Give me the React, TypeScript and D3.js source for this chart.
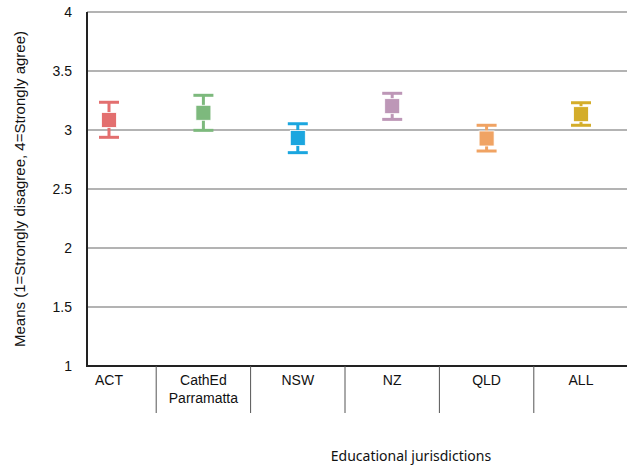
import React, {useEffect, useRef} from 'react';
import * as d3 from 'd3';

const categories = ['ACT', 'CathEd\nParramatta', 'NSW', 'NZ', 'QLD', 'ALL'];
const means = [3.085, 3.146, 2.932, 3.202, 2.928, 3.134];
const upper = [3.235, 3.294, 3.053, 3.311, 3.04, 3.231];
const lower = [2.938, 2.997, 2.808, 3.09, 2.822, 3.04];
const colors = ['#e36f6f', '#7db97d', '#1ba6df', '#bd97b7', '#f0a363', '#d4ad2a'];
const yTicks = [1, 1.5, 2, 2.5, 3, 3.5, 4];

const W = 627;
const H = 466;

export default function App() {
  const svgRef = useRef<SVGSVGElement>(null);

  useEffect(() => {
    if (!svgRef.current) return;
    const svg = d3.select(svgRef.current);
    svg.selectAll('*').remove();

    const left = 87;
    const right = 627;
    const top = 12;
    const bottom = 366;

    const y = d3.scaleLinear().domain([1, 4]).range([bottom, top]);
    const x = d3
      .scalePoint<string>()
      .domain(categories)
      .range([109, 581]);
    const step = x.step();

    // Grid lines
    svg
      .append('g')
      .selectAll('line')
      .data(yTicks.filter((t) => t > 1))
      .enter()
      .append('line')
      .attr('x1', left)
      .attr('x2', right)
      .attr('y1', (d) => y(d))
      .attr('y2', (d) => y(d))
      .attr('stroke', '#9a9a9a')
      .attr('stroke-width', 1.6);

    // Y tick labels
    svg
      .append('g')
      .selectAll('text')
      .data(yTicks)
      .enter()
      .append('text')
      .attr('x', 72)
      .attr('y', (d) => y(d))
      .attr('dy', '0.35em')
      .attr('text-anchor', 'end')
      .attr('font-family', 'Liberation Sans, Arial, sans-serif')
      .attr('font-size', 14)
      .attr('fill', '#111')
      .text((d) => String(d));

    // Axes lines
    svg
      .append('line')
      .attr('x1', left)
      .attr('x2', left)
      .attr('y1', top)
      .attr('y2', bottom)
      .attr('stroke', '#222')
      .attr('stroke-width', 2);
    svg
      .append('line')
      .attr('x1', left - 1)
      .attr('x2', right)
      .attr('y1', bottom)
      .attr('y2', bottom)
      .attr('stroke', '#222')
      .attr('stroke-width', 2);

    // Category separators
    svg
      .append('g')
      .selectAll('line')
      .data(categories.slice(1))
      .enter()
      .append('line')
      .attr('x1', (d) => (x(d) || 0) - step / 2)
      .attr('x2', (d) => (x(d) || 0) - step / 2)
      .attr('y1', bottom)
      .attr('y2', 413)
      .attr('stroke', '#555')
      .attr('stroke-width', 1);

    // Category labels
    const labels = svg
      .append('g')
      .selectAll('text')
      .data(categories)
      .enter()
      .append('text')
      .attr('x', (d) => x(d) || 0)
      .attr('y', 385)
      .attr('text-anchor', 'middle')
      .attr('font-family', 'Liberation Sans, Arial, sans-serif')
      .attr('font-size', 14)
      .attr('fill', '#111');
    labels
      .selectAll('tspan')
      .data((d) => d.split('\n').map((s) => ({s, x: x(d) || 0})))
      .enter()
      .append('tspan')
      .attr('x', (d) => d.x)
      .attr('dy', (_d, i) => (i === 0 ? 0 : 18))
      .text((d) => d.s);

    // Error bars
    const g = svg.append('g');
    categories.forEach((c, i) => {
      const cx = x(c) || 0;
      const col = colors[i];
      const item = g.append('g');
      item
        .append('line')
        .attr('x1', cx)
        .attr('x2', cx)
        .attr('y1', y(upper[i]))
        .attr('y2', y(lower[i]))
        .attr('stroke', col)
        .attr('stroke-width', 3);
      [upper[i], lower[i]].forEach((v) => {
        item
          .append('line')
          .attr('x1', cx - 10)
          .attr('x2', cx + 10)
          .attr('y1', y(v))
          .attr('y2', y(v))
          .attr('stroke', col)
          .attr('stroke-width', 3);
      });
      item
        .append('rect')
        .attr('x', cx - 7.5)
        .attr('y', y(means[i]) - 7.5)
        .attr('width', 15)
        .attr('height', 15)
        .attr('fill', col)
        .attr('stroke', '#fff')
        .attr('stroke-width', 0.8);
    });

    // Axis titles
    svg
      .append('text')
      .attr('transform', `translate(25,${(top + bottom) / 2}) rotate(-90)`)
      .attr('text-anchor', 'middle')
      .attr('font-family', 'Liberation Sans, Arial, sans-serif')
      .attr('font-size', 15)
      .attr('fill', '#111')
      .text('Means (1=Strongly disagree, 4=Strongly agree)');

    svg
      .append('text')
      .attr('x', 411)
      .attr('y', 461)
      .attr('text-anchor', 'middle')
      .attr('font-family', 'Noto Sans, sans-serif')
      .attr('font-size', 14)
      .attr('fill', '#111')
      .text('Educational jurisdictions');
  }, []);

  return (
    <svg
      ref={svgRef}
      width={W}
      height={H}
      style={{position: 'absolute', left: 0, top: 0, background: '#fff'}}
    />
  );
}
